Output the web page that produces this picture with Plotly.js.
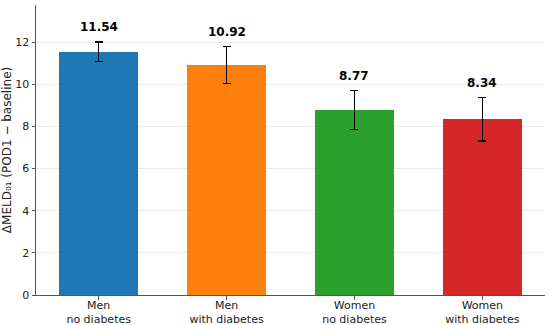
<!DOCTYPE html>
<html>
<head>
<meta charset="utf-8">
<script src="https://cdn.plot.ly/plotly-3.0.1.min.js"></script>
<style>html,body{margin:0;padding:0;background:#fff;}#chart{width:550px;height:325px;}</style>
</head>
<body>
<div id="chart"></div>
<script>
const categories = ["Men<br>no diabetes", "Men<br>with diabetes", "Women<br>no diabetes", "Women<br>with diabetes"];
const means = [11.54, 10.92, 8.77, 8.34];
const errors = [0.47, 0.88, 0.92, 1.03];
const colors = ["#1f77b4", "#ff7f0e", "#2ca02c", "#d62728"];
const labels = ["11.54", "10.92", "8.77", "8.34"];

const xs = categories.map((c, i) => i);

const trace = {
  type: "bar",
  x: xs,
  y: means,
  width: 0.62,
  marker: {color: colors, line: {width: 0}},
  error_y: {type: "data", array: errors, visible: true, color: "#000", thickness: 1.3, width: 4},
  hoverinfo: "none"
};

const annotations = means.map((m, i) => ({
  x: i, y: m + errors[i] + 0.27, xref: "x", yref: "y",
  text: "<b>" + labels[i] + "</b>", showarrow: false, yanchor: "bottom",
  font: {family: "DejaVu Sans", size: 12, color: "#000"}
}));

const layout = {
  width: 550, height: 325,
  margin: {l: 36, r: 5, t: 5, b: 30},
  paper_bgcolor: "#fff", plot_bgcolor: "#fff",
  font: {family: "DejaVu Sans", size: 11, color: "#222"},
  showlegend: false,
  bargap: 0,
  xaxis: {
    range: [-0.49, 3.49],
    tickmode: "array", tickvals: xs, ticktext: categories,
    showline: true, linecolor: "#555", linewidth: 1,
    ticks: "outside", ticklen: 3.5, tickcolor: "#555",
    ticklabelstandoff: -4,
    showgrid: false, zeroline: false,
    tickfont: {family: "DejaVu Sans", size: 11, color: "#222"}
  },
  yaxis: {
    range: [0, 13.76],
    tickmode: "array", tickvals: [0, 2, 4, 6, 8, 10, 12],
    showline: true, linecolor: "#555", linewidth: 1,
    ticks: "outside", ticklen: 3.5, tickcolor: "#555",
    showgrid: true, gridcolor: "#ebebeb", gridwidth: 1,
    zeroline: false,
    tickfont: {family: "DejaVu Sans", size: 11, color: "#222"},
    title: {text: "ΔMELD₀₁ (POD1 − baseline)", font: {family: "DejaVu Sans", size: 12, color: "#222"}, standoff: 4}
  },
  annotations: annotations
};

Plotly.newPlot("chart", [trace], layout, {displayModeBar: false, staticPlot: true});
</script>
</body>
</html>
